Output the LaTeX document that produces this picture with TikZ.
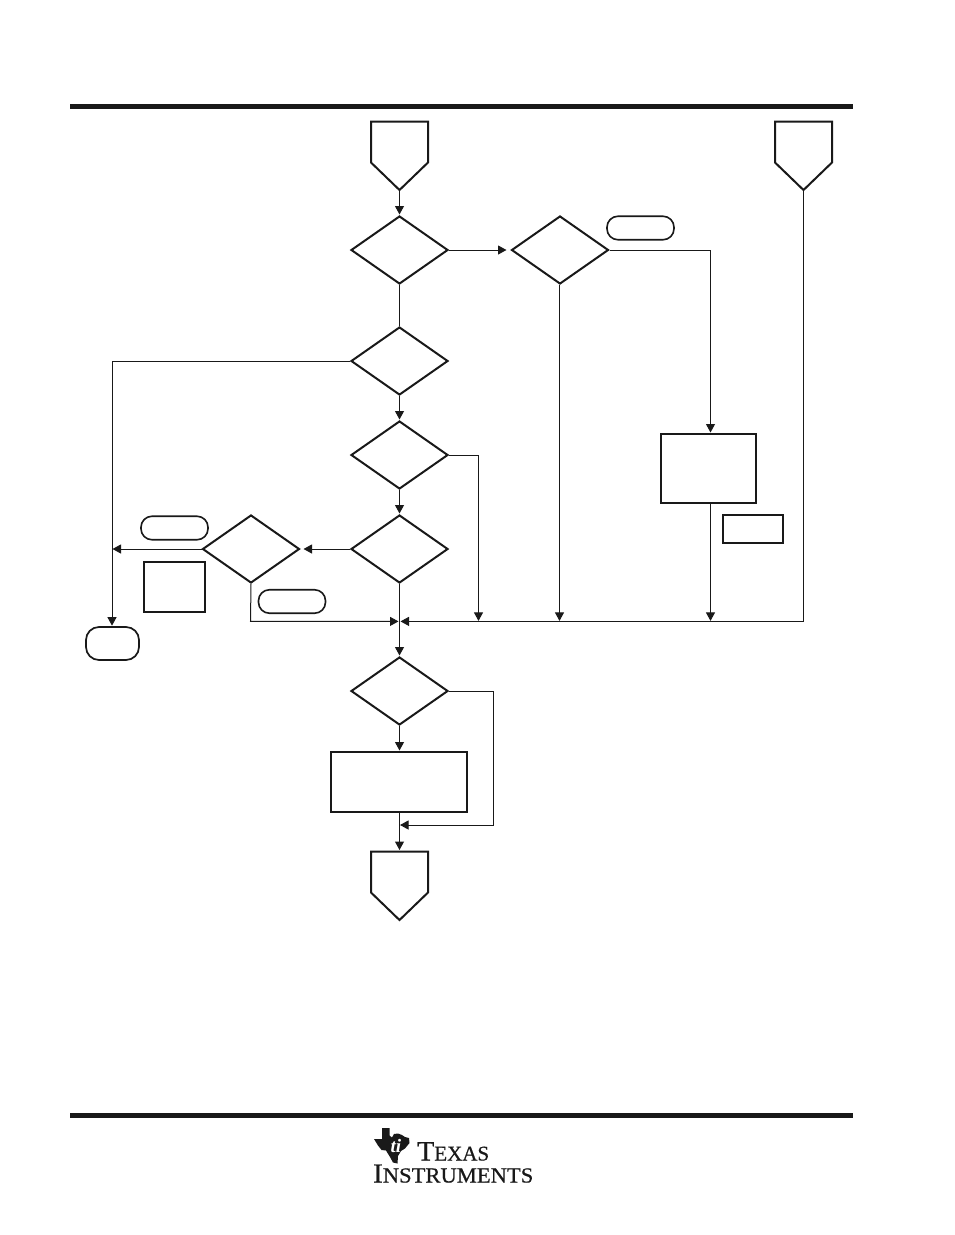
\documentclass[tikz,border=0pt]{standalone}
\usepackage{fontspec}
\setmainfont{Liberation Serif}
\newfontfamily\logofont[FakeBold=0.6]{Liberation Serif}
\newfontfamily\logowide[FakeBold=0.6,FakeStretch=1.05]{Liberation Serif}
\usetikzlibrary{arrows.meta,shapes.geometric,shapes.symbols}
\tikzset{
	flowline/.style={line width=1pt, color=black!90},
	flowarrow/.style={flowline, -{Triangle[length=8.5pt,width=9pt]}, shorten >=0.5pt},
	decision/.style={draw, shape=diamond, line width=2pt, color=black!90, inner sep=0pt, aspect=1.44, minimum width=97pt, minimum height=68pt},
	offpage/.style={draw, shape=signal, signal to=south, signal pointer angle=92, line width=2pt, color=black!90, inner sep=0pt, minimum width=57pt, minimum height=41pt, anchor=north},
	procbox/.style={draw, shape=rectangle, line width=2pt, color=black!90, inner sep=0pt},
	pill/.style={draw, shape=rectangle, rounded corners=11pt, line width=1.6pt, color=black!90, inner sep=0pt, minimum width=67pt, minimum height=23.5pt},
	logotext/.style={inner sep=0pt, anchor=base west, color=black!90},
}
\begin{document}
\begin{tikzpicture}[x=1pt, y=-1pt]
			%%%%% PAGE %%%%%
			\useasboundingbox (0, 0) rectangle (954, 1235);
			\fill[black!90] (70, 104) rectangle (853, 108.5);
			\fill[black!90] (70, 1113) rectangle (853, 1117.5);
			
			%%%%% FLOW SHAPES %%%%%
			\node[offpage] (entry) at (399.5, 120.5) {};
			\node[offpage] (reentry) at (803.5, 120.5) {};
			\node[decision] (testa) at (399.5, 250) {};
			\node[decision] (testb) at (560, 250) {};
			\node[decision] (testc) at (399.5, 361) {};
			\node[decision] (testd) at (399.5, 455) {};
			\node[decision] (teste) at (399.5, 549) {};
			\node[decision] (testf) at (251, 549) {};
			\node[decision] (testg) at (399.5, 691) {};
			\node[offpage] (leave) at (399.5, 850.5) {};
			
			\node[procbox, minimum width=95pt, minimum height=69pt] (workbox) at (708.5, 468.5) {};
			\node[procbox, minimum width=60pt, minimum height=28pt] (notebox) at (753, 529) {};
			\node[procbox, line width=2.4pt, minimum width=61pt, minimum height=50pt] (sidebox) at (174.5, 587) {};
			\node[procbox, minimum width=136pt, minimum height=60pt] (lastbox) at (399, 782) {};
			
			\node[pill] (pillb) at (640.5, 228) {};
			\node[pill] (pillf) at (174.5, 528) {};
			\node[pill] (pillg) at (292, 601.5) {};
			\node[draw, shape=rectangle, rounded corners=13pt, line width=1.7pt, color=black!90, inner sep=0pt, minimum width=53pt, minimum height=33pt] (stopbox) at (112.5, 643.5) {};
			
			%%%%% JOINS %%%%%
			\coordinate (merge) at (399.5, 621.4);
			\coordinate (joind) at (478.5, 621.4);
			\coordinate (joinb) at (559.5, 621.4);
			\coordinate (joinw) at (710.5, 621.4);
			\coordinate (joinf) at (112, 549);
			\coordinate (turnf) at (250.5, 621.4);
			\coordinate (turnr) at (803.5, 621.4);
			\coordinate (turng) at (493.5, 825);
			\coordinate (mergeg) at (399.5, 825);
			
			%%%%% CONNECTORS %%%%%
			\draw[flowarrow] (entry.south) -- (testa.north);
			\draw[flowarrow, shorten >=4pt] (testa.east) -- (testb.west);
			\draw[flowline] (testa.south) -- (testc.north);
			\draw[flowarrow] (testc.south) -- (testd.north);
			\draw[flowarrow] (testd.south) -- (teste.north);
			\draw[flowarrow, shorten >=3pt] (teste.west) -- (testf.east);
			\draw[flowarrow] (teste.south) -- (testg.north);
			\draw[flowarrow] (testg.south) -- (lastbox.north -| testg.south);
			\draw[flowarrow] (lastbox.south -| leave.north) -- (leave.north);
			
			\draw[flowarrow] (testb.east) -| (workbox.north -| joinw);
			\draw[flowarrow] (testb.south -| joinb) -- (joinb);
			\draw[flowarrow] (workbox.south -| joinw) -- (joinw);
			\draw[flowarrow] (testd.east) -| (joind);
			\draw[flowarrow] (testc.west) -| (stopbox.north -| joinf);
			\draw[flowarrow] (testf.west) -- (joinf);
			\draw[flowarrow, shorten >=1pt] (testf.south) -- (turnf) -- (merge);
			\draw[flowarrow, shorten >=1pt] (reentry.south) -- (turnr) -- (merge);
			\draw[flowarrow] (testg.east) -| (turng) -- (mergeg);
			
			%%%%% LOGO %%%%%
			\fill[black!90] (382, 1128) -- (389.5, 1128) -- (389.5, 1135.5) -- (392, 1137.5) -- (394, 1134) -- (398, 1133.5) -- (402, 1135) -- (405, 1137) -- (409, 1138) -- (409.5, 1143) -- (405, 1148.5) -- (401, 1151) -- (398, 1156) -- (397.5, 1163.5) -- (393, 1162.5) -- (390, 1157) -- (386, 1150.5) -- (381.5, 1150) -- (378, 1145.5) -- (374, 1139) -- (382, 1139) -- cycle;
			\node[logotext, white, font=\bfseries\itshape\fontsize{19}{19}\selectfont] (logoti) at (390.5, 1152) {ti};
			\node[logotext, font=\logofont\fontsize{28}{28}\selectfont] (logotexas) at (417, 1160.5) {T\fontsize{21}{21}\selectfont EXAS};
			\node[logotext, font=\logowide\fontsize{27.5}{27.5}\selectfont] (logoinst) at (373, 1182.5) {I\fontsize{21.5}{21.5}\selectfont NSTRUMENTS};
			
			%%%%% END %%%%%
\end{tikzpicture}
\end{document}
